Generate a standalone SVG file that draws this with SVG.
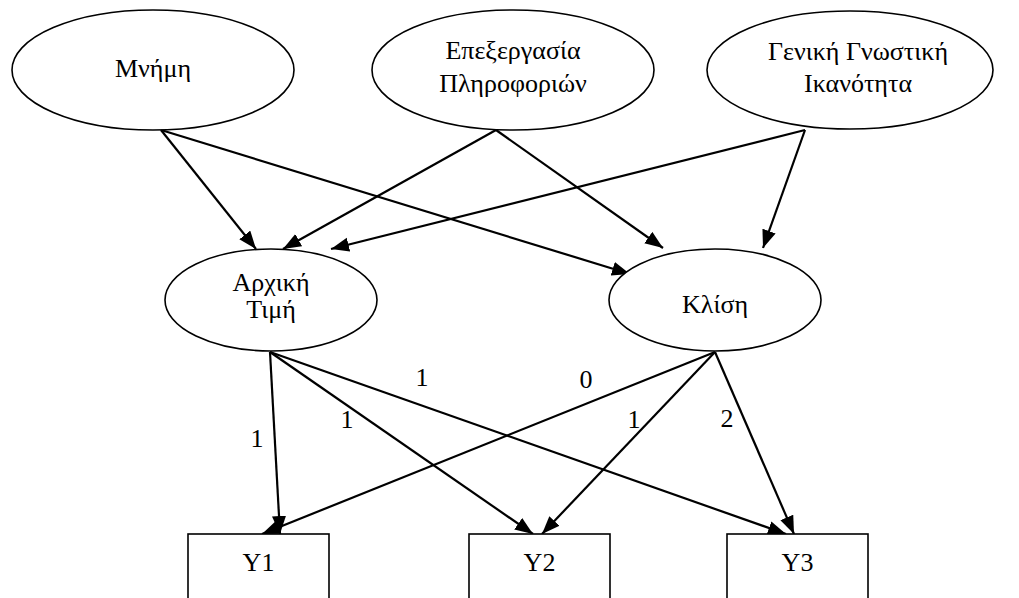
<svg xmlns="http://www.w3.org/2000/svg" width="1019" height="598" viewBox="0 0 1019 598">
  <style>
    .node { fill: #ffffff; stroke: #000000; stroke-width: 1.6; }
    .lbl { font-family: "Liberation Serif", "Times New Roman", serif; font-size: 26px; fill: #000000; text-anchor: middle; }
    .edge { stroke: #000000; stroke-width: 2.2; fill: none; marker-end: url(#arrow); }
  </style>
  <defs>
    <marker id="arrow" markerUnits="userSpaceOnUse" markerWidth="19" markerHeight="15" refX="18" refY="7" orient="auto">
      <path d="M0,0 L18,7 L0,14 z" fill="#000000"/>
    </marker>
  </defs>
  <rect width="1019" height="598" fill="#ffffff"/>

  <g id="connectors">
    <!-- factors to growth parameters -->
    <line class="edge" x1="161" y1="130" x2="256" y2="249"/>
    <line class="edge" x1="161" y1="130" x2="630" y2="274"/>
    <line class="edge" x1="496" y1="130" x2="283" y2="249"/>
    <line class="edge" x1="496" y1="130" x2="663" y2="248"/>
    <line class="edge" x1="805" y1="130" x2="331" y2="249"/>
    <line class="edge" x1="805" y1="130" x2="763" y2="248"/>
    <!-- growth parameters to measurements -->
    <line class="edge" x1="270" y1="352" x2="280" y2="534"/>
    <line class="edge" x1="270" y1="352" x2="533" y2="534"/>
    <line class="edge" x1="270" y1="352" x2="786" y2="534"/>
    <line class="edge" x1="715" y1="352" x2="262" y2="534"/>
    <line class="edge" x1="715" y1="352" x2="542" y2="534"/>
    <line class="edge" x1="715" y1="352" x2="794" y2="534"/>
  </g>

  <g id="loadings">
    <text class="lbl" x="257" y="447">1</text>
    <text class="lbl" x="347" y="428">1</text>
    <text class="lbl" x="422" y="386">1</text>
    <text class="lbl" x="586" y="388">0</text>
    <text class="lbl" x="634" y="428">1</text>
    <text class="lbl" x="727" y="427">2</text>
  </g>

  <g id="mnimi">
    <ellipse class="node" cx="153" cy="70" rx="141" ry="60"/>
    <text class="lbl" x="153" y="77">Μνήμη</text>
  </g>
  <g id="epexergasia">
    <ellipse class="node" cx="513" cy="70" rx="141" ry="60"/>
    <text class="lbl" x="513" y="59">Επεξεργασία</text>
    <text class="lbl" x="513" y="92">Πληροφοριών</text>
  </g>
  <g id="geniki">
    <ellipse class="node" cx="850" cy="70" rx="143" ry="59"/>
    <text class="lbl" x="858" y="60">Γενική Γνωστική</text>
    <text class="lbl" x="858" y="92">Ικανότητα</text>
  </g>
  <g id="arxiki">
    <ellipse class="node" cx="271" cy="300" rx="106" ry="51"/>
    <text class="lbl" x="271" y="291">Αρχική</text>
    <text class="lbl" x="271" y="318">Τιμή</text>
  </g>
  <g id="klisi">
    <ellipse class="node" cx="715" cy="300" rx="106" ry="51"/>
    <text class="lbl" x="715" y="313">Κλίση</text>
  </g>

  <g id="y1">
    <rect class="node" x="188" y="534" width="141" height="80"/>
    <text class="lbl" x="258.5" y="571">Y1</text>
  </g>
  <g id="y2">
    <rect class="node" x="469" y="534" width="141" height="80"/>
    <text class="lbl" x="539.5" y="571">Y2</text>
  </g>
  <g id="y3">
    <rect class="node" x="727" y="534" width="141" height="80"/>
    <text class="lbl" x="797.5" y="571">Y3</text>
  </g>
</svg>
